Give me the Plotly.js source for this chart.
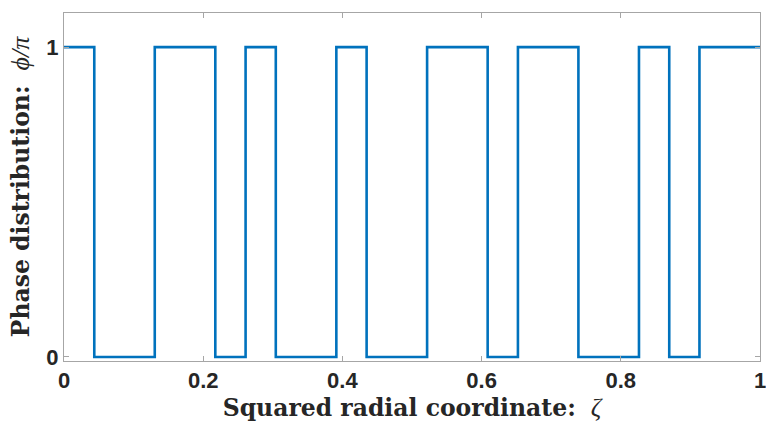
<!DOCTYPE html>
<html>
<head>
<meta charset="utf-8">
<script src="https://cdn.plot.ly/plotly-3.0.1.min.js"></script>
<style>
  html, body { margin: 0; padding: 0; background: #ffffff; }
  #chart { width: 766px; height: 428px; }
</style>
</head>
<body>
<div id="chart"></div>
<script>
// Binary phase profile: step edges in the squared radial coordinate and the phase level (in units of pi) that starts at each edge
const zetaEdges = [0, 0.0435, 0.1304, 0.2174, 0.2609, 0.3043, 0.3913, 0.4348, 0.5217, 0.6087, 0.6522, 0.7391, 0.8261, 0.8696, 0.9130, 1.0];
const phaseLevels = [1, 0, 1, 0, 1, 0, 1, 0, 1, 0, 1, 0, 1, 0, 1, 1];
const xTickVals = [0, 0.2, 0.4, 0.6, 0.8, 1];
const xTickText = ['0', '0.2', '0.4', '0.6', '0.8', '1'];
const yTickVals = [0, 1];
const yTickText = ['0', '1'];

const axisColor = '#a6a6a6';
const tickFont = { family: 'Liberation Sans, Arial, sans-serif', size: 22, color: '#262626', weight: 'bold' };
const titleFont = { family: 'DejaVu Serif, Liberation Serif, serif', size: 23.5, color: '#262626' };
// math symbols set in a lighter italic serif
const mathSpan = s => `<span style="font-family:'Liberation Serif',serif;font-size:26px"><i>${s}</i></span>`;

const trace = {
  x: zetaEdges,
  y: phaseLevels,
  type: 'scatter',
  mode: 'lines',
  line: { shape: 'hv', color: '#0072BD', width: 2.6 },
  hoverinfo: 'skip'
};

const layout = {
  width: 766,
  height: 428,
  margin: { l: 64, r: 6, t: 13, b: 67 },
  paper_bgcolor: '#ffffff',
  plot_bgcolor: '#ffffff',
  showlegend: false,
  xaxis: {
    range: [0, 1],
    tickvals: xTickVals,
    ticktext: xTickText,
    ticks: 'inside',
    ticklen: 5,
    tickwidth: 1,
    tickcolor: axisColor,
    showline: true,
    linecolor: axisColor,
    linewidth: 1,
    mirror: 'ticks',
    showgrid: false,
    zeroline: false,
    ticklabeloverflow: 'allow',
    tickfont: tickFont,
    title: {
      text: '<b>Squared radial coordinate:</b>  ' + mathSpan('ζ'),
      font: titleFont,
      standoff: 7
    }
  },
  yaxis: {
    range: [-0.013, 1.11],
    tickvals: yTickVals,
    ticktext: yTickText,
    ticks: 'inside',
    ticklen: 5,
    tickwidth: 1,
    tickcolor: axisColor,
    showline: true,
    linecolor: axisColor,
    linewidth: 1,
    mirror: 'ticks',
    showgrid: false,
    zeroline: false,
    ticklabeloverflow: 'allow',
    tickfont: tickFont,
    title: {
      text: '<b>Phase distribution:</b>  ' + mathSpan('ϕ/π'),
      font: titleFont,
      standoff: 10
    }
  }
};

Plotly.newPlot('chart', [trace], layout, { staticPlot: true, displayModeBar: false });
</script>
</body>
</html>
